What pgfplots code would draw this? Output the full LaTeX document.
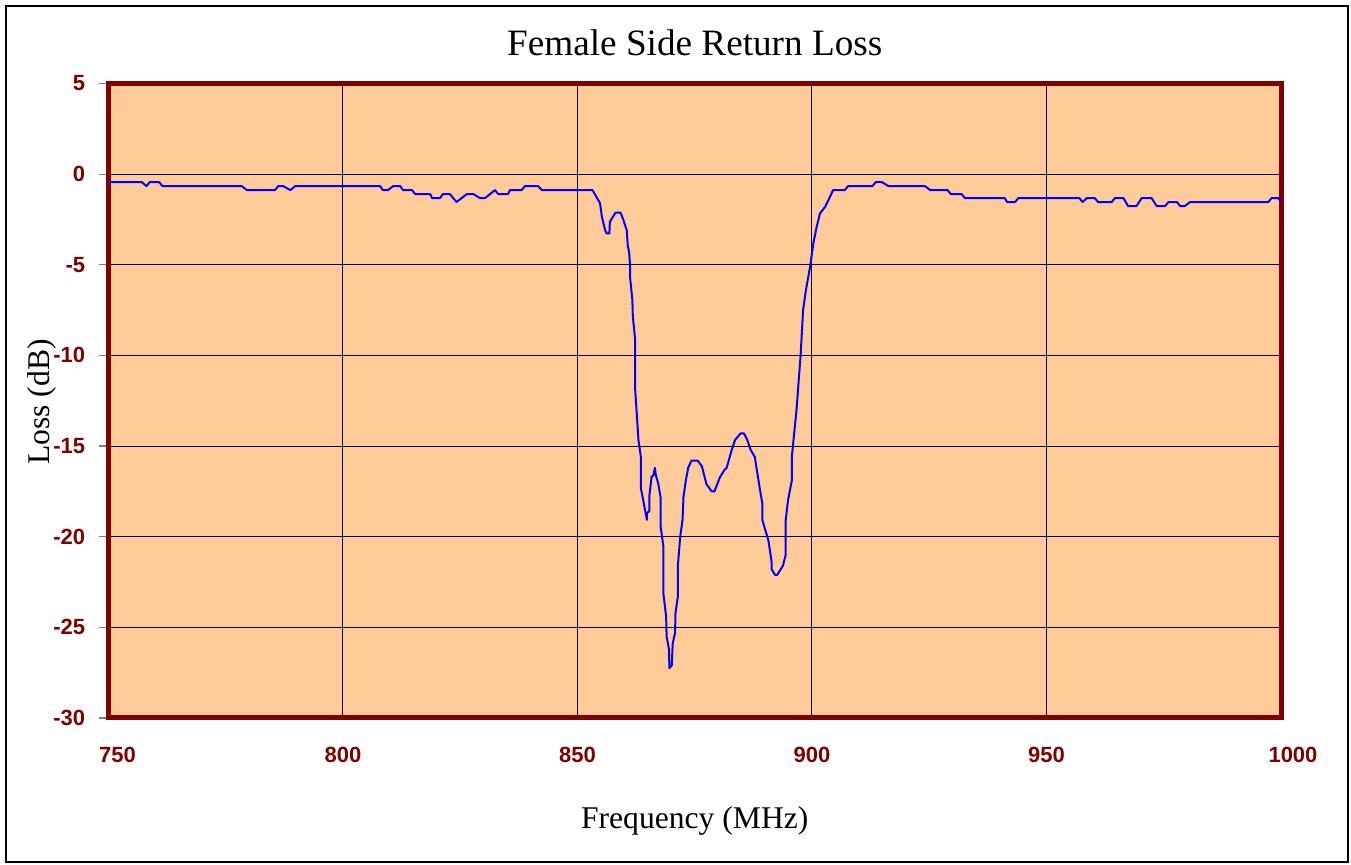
\documentclass[border=0pt]{standalone}
\usepackage{fontspec}
\setmainfont{Liberation Serif}
\setsansfont{Liberation Sans}
\usepackage{pgfplots}
\pgfplotsset{compat=1.18}

\definecolor{peach}{HTML}{FFCC99}
\definecolor{maroon}{HTML}{800000}

\begin{document}
\begin{tikzpicture}
  % image frame (1 px = 0.5 pt)
  \useasboundingbox (0,0) rectangle (675.5pt,432.5pt);
  \draw[black, line width=1pt] (2.85pt,1.5pt) rectangle (674pt,429.65pt);

  \begin{axis}[
    at={(54.25pt,73.5pt)}, anchor=south west,
    scale only axis,
    width=586.25pt, height=317.25pt,
    xmin=750, xmax=1000,
    ymin=-30, ymax=5,
    xtick={750,800,850,900,950,1000},
    ytick={-30,-25,-20,-15,-10,-5,0,5},
    yticklabels={-30,-25,-20,-15,-10,-5,0,5},
    xticklabels={\hspace*{9pt}750,800,850,900,950,\hspace*{12pt}1000},
    ytick pos=left,
    grid=major,
    major grid style={black, line width=0.5pt},
    axis line style={maroon, line width=2.5pt},
    axis background/.style={fill=peach},
    x tick style={draw=none},
    y tick style={draw=gray, line width=0.6pt},
    tick align=outside,
    major tick length=4.5pt,
    tick label style={font=\sffamily\bfseries\fontsize{11}{13}\selectfont, text=maroon},
    xticklabel style={anchor=center, inner sep=0pt, yshift=-14pt},
    yticklabel style={anchor=east, inner sep=0pt, xshift=-7pt},
    title={Female Side Return Loss},
    title style={at={(axis description cs:0.5,1.0449)}, anchor=base, yshift=-6.5pt, font=\fontsize{18.6}{22}\selectfont},
    xlabel={Frequency (MHz)},
    xlabel style={at={(axis description cs:0.5,-0.1734)}, anchor=base, font=\fontsize{15.8}{19}\selectfont},
    ylabel={Loss (dB)},
    ylabel style={at={(axis description cs:-0.0503,0.498)}, anchor=base, rotate=0, font=\fontsize{15.8}{19}\selectfont},
  ]
  \addplot[blue, line width=1pt, line join=round, mark=none] coordinates {
    (750,-0.44) (757.1,-0.44) (758.1,-0.66) (758.8,-0.44) (760.8,-0.44) (761.5,-0.66)
    (778.4,-0.66) (779.5,-0.88) (785.5,-0.88) (786.2,-0.66) (787.2,-0.66) (788.8,-0.88)
    (789.8,-0.66) (807.9,-0.66) (808.5,-0.88) (809.6,-0.88) (810.7,-0.66) (812.2,-0.66)
    (812.8,-0.88) (814.7,-0.88) (815.4,-1.1) (818.6,-1.1) (819.0,-1.32) (820.7,-1.32)
    (821.3,-1.1) (822.8,-1.1) (824.2,-1.54) (826.4,-1.1) (827.8,-1.1) (829.2,-1.32)
    (830.3,-1.32) (832.4,-0.88) (833.1,-1.1) (835.2,-1.1) (835.6,-0.88) (838.1,-0.88)
    (838.8,-0.66) (841.6,-0.66) (842.4,-0.88) (853.2,-0.88)
    (854.8,-1.6) (855.2,-2.35) (855.9,-3.1) (856.2,-3.27) (856.8,-3.27) (856.9,-2.63)
    (858.1,-2.13) (859.2,-2.13) (859.8,-2.54) (860.5,-3.1) (860.7,-3.9) (861.0,-4.3)
    (861.2,-5.0) (861.2,-5.66) (861.7,-6.95) (861.8,-7.86) (862.3,-9.15) (862.3,-11.9)
    (863.0,-14.66) (863.5,-15.58) (863.5,-17.3) (864.0,-17.97) (864.8,-19.07) (864.8,-18.7)
    (865.3,-18.6) (865.3,-17.8) (865.8,-16.7) (866.2,-16.6) (866.5,-16.2) (866.7,-16.6)
    (867.2,-17.05) (867.7,-17.8) (867.7,-19.4) (868.3,-20.5) (868.3,-23.1) (868.9,-24.4)
    (869.0,-25.5) (869.5,-26.2) (869.6,-27.25) (870.1,-27.1) (870.3,-25.9) (870.8,-25.3)
    (870.9,-24.2) (871.4,-23.3) (871.4,-21.6) (871.9,-20.0) (872.4,-19.07) (872.6,-17.8)
    (873.1,-16.9) (873.6,-16.2) (874.3,-15.8) (875.6,-15.8) (876.5,-16.1) (877.5,-17.1)
    (878.6,-17.5) (879.2,-17.5) (880.4,-16.7) (881.4,-16.3) (881.8,-16.2) (882.9,-15.2)
    (883.6,-14.66) (884.8,-14.3) (885.5,-14.3) (886.2,-14.66) (886.9,-15.2) (887.8,-15.6)
    (888.9,-17.4) (889.4,-18.15) (889.4,-19.07) (890.7,-20.2) (891.4,-21.4) (891.4,-21.8)
    (892.1,-22.1) (892.6,-22.1) (893.8,-21.6) (894.4,-21.0) (894.4,-19.07) (894.9,-17.97)
    (895.7,-16.9) (895.7,-15.6) (896.7,-13.0) (897.6,-9.88) (898.1,-7.5) (898.7,-6.4)
    (899.6,-5.1) (900.3,-3.8) (901.0,-2.9) (901.7,-2.17) (902.8,-1.8) (903.5,-1.43)
    (904.5,-0.88) (907.0,-0.88) (907.7,-0.66) (912.9,-0.66) (913.6,-0.44) (914.9,-0.44)
    (916.3,-0.66) (924.1,-0.66) (925.2,-0.88) (928.9,-0.88) (929.6,-1.1) (931.9,-1.1)
    (932.6,-1.32) (941.1,-1.32) (941.6,-1.54) (943.3,-1.54) (944.0,-1.32) (957.0,-1.32)
    (957.7,-1.54) (958.6,-1.32) (960.3,-1.32) (961.0,-1.54) (963.9,-1.54) (964.6,-1.32)
    (966.4,-1.32) (967.4,-1.76) (969.2,-1.76) (970.3,-1.32) (972.4,-1.32) (973.5,-1.76)
    (975.3,-1.76) (976.0,-1.54) (977.8,-1.54) (978.5,-1.76) (979.5,-1.76) (980.6,-1.54)
    (997.3,-1.54) (998.0,-1.32) (999.4,-1.32) (1000,-1.54)
  };
  \end{axis}
\end{tikzpicture}
\end{document}
